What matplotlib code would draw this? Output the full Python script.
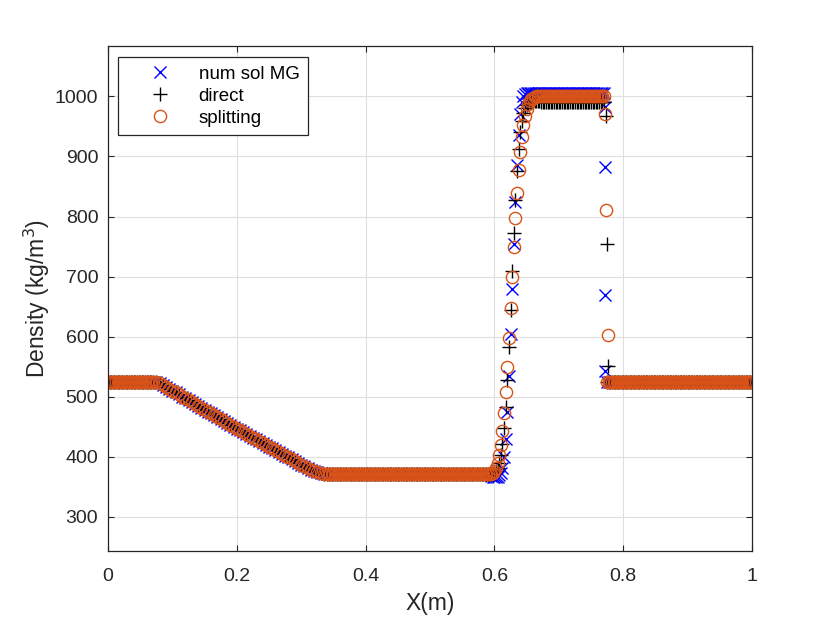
import matplotlib
matplotlib.use('Agg')
import matplotlib.pyplot as plt
import numpy as np

# ---- data ----
# left state, rarefaction fan and middle state (all three schemes overlap there)
rho_left = 525.0
x_fan = np.linspace(0.07, 0.34, 55)
rho_fan = [525, 524, 522, 519, 516, 513, 510, 507, 504, 500,
           497, 494, 491, 488, 485, 481, 478, 475, 472, 469,
           466, 463, 459, 456, 453, 450, 447, 444, 441, 438,
           435, 432, 429, 426, 423, 420, 417, 414, 411, 408,
           405, 402, 399, 396, 393, 390, 387, 384, 381, 378,
           376, 374, 373, 372, 371]
rho_mid = 371.0

# contact discontinuity
x_contact = np.linspace(0.595, 0.67, 31)
rho_contact_mg = [368, 367, 366, 366, 367, 369, 373, 382, 400, 430,
                  475, 535, 605, 680, 755, 825, 885, 935, 970, 990,
                  1000, 1004, 1005, 1005, 1005, 1005, 1005, 1005, 1005, 1005, 1005]
rho_contact_direct = [371, 371, 373, 376, 381, 390, 403, 422, 448, 483,
                      528, 583, 645, 710, 772, 828, 875, 912, 940, 959,
                      972, 980, 985, 988, 990, 991, 992, 992, 992, 992, 992]
rho_contact_split = [372, 373, 376, 381, 390, 403, 420, 443, 472, 508,
                     550, 597, 648, 700, 750, 797, 840, 877, 908, 933,
                     953, 968, 979, 987, 992, 995, 997, 999, 1000, 1000, 1000]

# plateau behind the shock
rho_top_mg = 1005.0
rho_top_direct = 991.0
rho_top_split = 1000.0

# points inside the shock
x_shock_mg = [0.7712, 0.7715, 0.7718, 0.7721]
rho_shock_mg = [982, 882, 670, 543]
x_shock_direct = [0.7728, 0.7745, 0.7762]
rho_shock_direct = [968, 755, 551]
x_shock_split = [0.7725, 0.7740, 0.7758]
rho_shock_split = [970, 811, 603]

# right state
rho_right = 525.0

labels = ['num sol MG', 'direct', 'splitting']


def build_series(rho_contact, rho_top, x_shock, rho_shock):
    """Glue the pieces of one numerical solution together."""
    x_l = np.arange(0.0, 0.0676, 0.0025)
    x_m = np.arange(0.3425, 0.5926, 0.0025)
    x_t = np.arange(0.6725, 0.7701, 0.0025)
    x_r = np.arange(0.775, 1.0001, 0.0025)
    x = np.concatenate([x_l, x_fan, x_m, x_contact, x_t, x_shock, x_r])
    rho = np.concatenate([np.full(len(x_l), rho_left), rho_fan,
                          np.full(len(x_m), rho_mid), rho_contact,
                          np.full(len(x_t), rho_top), rho_shock,
                          np.full(len(x_r), rho_right)])
    return x, rho


x_mg, rho_mg = build_series(rho_contact_mg, rho_top_mg, x_shock_mg, rho_shock_mg)
x_dir, rho_dir = build_series(rho_contact_direct, rho_top_direct, x_shock_direct, rho_shock_direct)
x_spl, rho_spl = build_series(rho_contact_split, rho_top_split, x_shock_split, rho_shock_split)

plt.rcParams['font.family'] = ['Liberation Sans', 'DejaVu Sans']
axis_color = '#262626'

fig = plt.figure(figsize=(8.3, 6.21), dpi=100)
ax = fig.add_axes([108 / 830, 1 - 551 / 621, 644 / 830, 505 / 621])

ax.plot(x_mg, rho_mg, linestyle='none', marker='x', ms=9.2, mew=1.0,
        color='#0000FF', label=labels[0])
ax.plot(x_dir, rho_dir, linestyle='none', marker='+', ms=10.5, mew=1.0,
        color='black', label=labels[1])
ax.plot(x_spl, rho_spl, linestyle='none', marker='o', ms=8.8, mew=1.0,
        mfc='none', color='#D95319', label=labels[2])

ax.set_xlim(0, 1)
ax.set_ylim(243, 1084)
ax.set_xticks([0, 0.2, 0.4, 0.6, 0.8, 1])
ax.set_xticklabels(['0', '0.2', '0.4', '0.6', '0.8', '1'])
ax.set_yticks(np.arange(300, 1001, 100))

ax.grid(True, color='#DFDFDF', linewidth=0.8)
ax.set_axisbelow(True)
for s in ax.spines.values():
    s.set_color(axis_color)
    s.set_linewidth(0.9)
ax.tick_params(direction='in', top=True, right=True, length=4.6, width=0.8,
               colors=axis_color, labelsize=14)
ax.tick_params(axis='x', pad=12)
ax.tick_params(axis='y', pad=7)

ax.set_xlabel('X(m)', fontsize=16.5, color=axis_color, labelpad=5)
ax.set_ylabel('Density (kg/m$^3$)', fontsize=16.5, color=axis_color, labelpad=2)

leg = ax.legend(loc='upper left', bbox_to_anchor=(10 / 644, 1 - 11 / 505),
                borderaxespad=0, fontsize=13.5, numpoints=1, handlelength=3.6,
                handletextpad=0.25, borderpad=0.45, labelspacing=0.27,
                fancybox=False, framealpha=1, edgecolor=axis_color)
leg.get_frame().set_linewidth(0.9)

fig.savefig('out.png', dpi=100)
